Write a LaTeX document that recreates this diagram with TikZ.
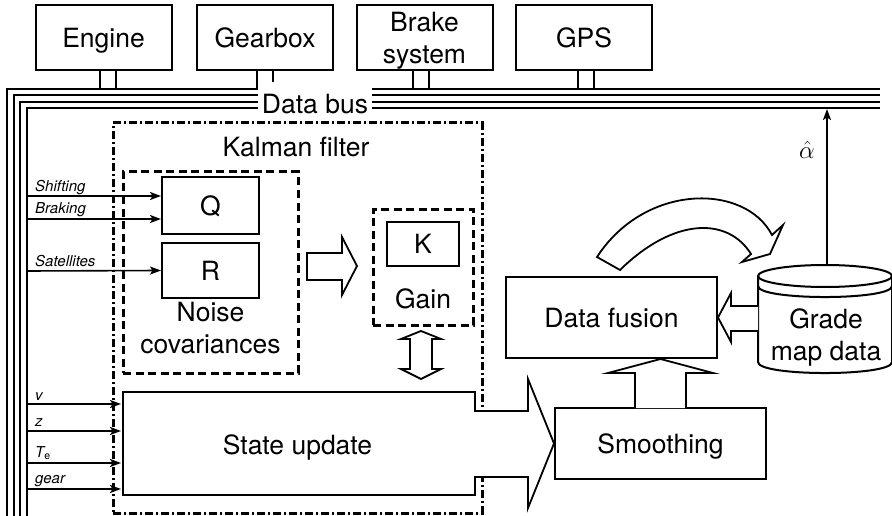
\documentclass[tikz,border=0pt]{standalone}
\usepackage{fontspec}
\setmainfont{TeX Gyre Heros}
\usetikzlibrary{arrows.meta}

\tikzset{
  unit/.style={draw, line width=2pt, minimum width=136pt, minimum height=65pt,
    inner sep=0pt, align=center, text depth=0pt},
  blk/.style={draw, line width=2pt, inner sep=0pt, text depth=0pt},
  txt/.style={inner sep=0pt, text depth=0pt, align=center},
  kalman/.style={draw, line width=3pt, dash pattern=on 8pt off 3pt on 2pt off 3pt},
  subframe/.style={draw, line width=3pt, dash pattern=on 8pt off 4.5pt},
  bus/.style={line width=1.6pt},
  inarrow/.style={line width=1.6pt, -{Stealth[length=11pt,width=8pt,inset=2.5pt]}},
  fat/.style={draw, line width=1.8pt, fill=white, line join=miter},
  lbl/.style={font=\fontsize{15}{18}\selectfont\itshape, anchor=base west, inner sep=0pt},
}

\begin{document}
\begin{tikzpicture}[x=1pt, y=-1pt, font=\fontsize{26.5}{32}\selectfont]
  \useasboundingbox (0,0) rectangle (892,516);

  % Units on the bus
  \node[unit] (engine)  at (103.5,37.5) {Engine};
  \node[unit] (gearbox) at (265,37.5)   {Gearbox};
  \node[unit] (brake)   at (424.5,37.5) {Brake\\system};
  \node[unit] (gps)     at (584,37.5)   {GPS};

  % Data bus
  \node[txt] (bus) at (315,103.5) {Data bus};
  \draw[bus, line width=2.8pt] (7,516) -- (7,89) -- (257,89) -- ([xshift=-8pt]gearbox.south);
  \draw[bus] (14,516) -- (14,95) -- (258,95);
  \draw[bus] (20,516) -- (20,102) -- (258,102);
  \draw[bus] (27,516) -- (27,108) -- (258,108);
  \foreach \y/\w in {89/2.8pt, 95/1.6pt, 102/1.6pt, 108/1.6pt}
    \draw[bus, line width=\w] (372,\y) -- (880,\y);
  \draw[bus, line width=2pt] ([xshift=8pt]gearbox.south) -- ++(0,11);
  \foreach \n/\a/\b in {engine/-3.5pt/12.5pt, brake/-11.5pt/4.5pt, gps/-6pt/10pt}
  {
    \draw[bus, line width=2pt] ([xshift=\a]\n.south) -- ++(0,19);
    \draw[bus, line width=2pt] ([xshift=\b]\n.south) -- ++(0,19);
  }

  % Kalman filter
  \node[kalman, minimum width=369pt, minimum height=390pt] (kf) at (297.5,318) {};
  \node[txt] (kftitle) at (296,147) {Kalman filter};

  % Noise covariances
  \node[subframe, minimum width=175pt, minimum height=201pt] (noise) at (210.5,272.5) {};
  \node[blk, minimum width=97pt, minimum height=57pt] (q) at (210.5,205.5) {Q};
  \node[blk, minimum width=97pt, minimum height=55pt] (r) at (210.5,270.5) {R};
  \node[txt] (noiselbl) at (210.5,328) {Noise\\covariances};

  % Gain
  \node[subframe, minimum width=100pt, minimum height=116pt] (gainbox) at (423,267) {};
  \node[blk, minimum width=72pt, minimum height=44pt] (k) at (423,244) {K};
  \node[txt] (gain) at (423,299) {Gain};

  % Inputs from the bus
  \draw[inarrow] (27,196) -- (q.west |- 0,196);
  \draw[inarrow] (27,219) -- (q.west |- 0,219);
  \draw[inarrow] (27,271) -- (r.west);
  \node[lbl] (shift) at (35,192) {Shifting};
  \node[lbl] (brk)   at (35,213) {Braking};
  \node[lbl] (sat)   at (35,266) {Satellites};

  % Smoothing, fusion and map
  \node[blk, minimum width=211pt, minimum height=71pt] (smooth) at (660.5,443.5) {Smoothing};
  \node[blk, minimum width=211pt, minimum height=81pt] (fusion) at (611.5,317.5) {Data fusion};

  % State update
  \draw[fat] (123,392) -- (475,392) -- (475,411) -- (528,411) -- (528,379)
    -- (smooth.west) -- (528,508) -- (528,477) -- (475,477) -- (475,495) -- (123,495) -- cycle;
  \node[txt] (su) at (297.5,445) {State update};
  \coordinate (suw) at (123,443);
  \foreach \y in {404,431,463,489}
    \draw[inarrow, shorten >=2pt] (27,\y) -- (suw |- 0,\y);
  \node[lbl] (v)    at (35,400) {v};
  \node[lbl] (z)    at (35,426) {z};
  \node[lbl] (te)   at (35,457) {T\textsubscript{\upshape e}};
  \node[lbl] (gear) at (35,483) {gear};

  % Block arrows inside the filter
  \draw[fat] (307,253) -- (342,253) -- (342,237) -- (357,266) -- (342,295)
    -- (342,280) -- (307,280) -- cycle;
  \draw[fat] (421,331) -- (441,339) -- (432,339) -- (432,369) -- (441,369) -- (421,379)
    -- (401,369) -- (410,369) -- (410,339) -- (401,339) -- cycle;

  % Smoothing to data fusion
  \draw[fat] (635,408) -- (635,373) -- (608,373) -- (smooth.north |- fusion.south)
    -- (713,373) -- (686,373) -- (686,408);

  % Grade map data
  \draw[line width=2pt, fill=white] (758,276) -- (758,362)
    .. controls (758,376.7) and (892,376.7) .. (892,362) -- (892,276);
  \draw[line width=2pt] (825,276) ellipse [x radius=67, y radius=11];
  \draw[line width=2pt] (758,286) .. controls (758,300.7) and (892,300.7) .. (892,286);
  \node[txt] (map) at (826,335) {Grade\\map data};
  \coordinate (maptop) at (827,265);

  % Map to data fusion
  \draw[fat] (758,306) -- (731,306) -- (731,293) -- (fusion.east) -- (731,342)
    -- (731,331) -- (758,331);

  % Curved arrow
  \draw[fat] (597,257) .. controls (645,183) and (745,183) .. (772,235) -- (783,225)
    -- (770,254) -- (742,262) -- (751,254) .. controls (728,217) and (674,217) .. (620,270) -- cycle;

  % Estimate back to the bus
  \draw[inarrow] (maptop) -- (maptop |- 0,109);
  \node[inner sep=0pt] (alpha) at (807,150) {\fontsize{26}{28}\selectfont$\hat{\alpha}$};
\end{tikzpicture}
\end{document}
